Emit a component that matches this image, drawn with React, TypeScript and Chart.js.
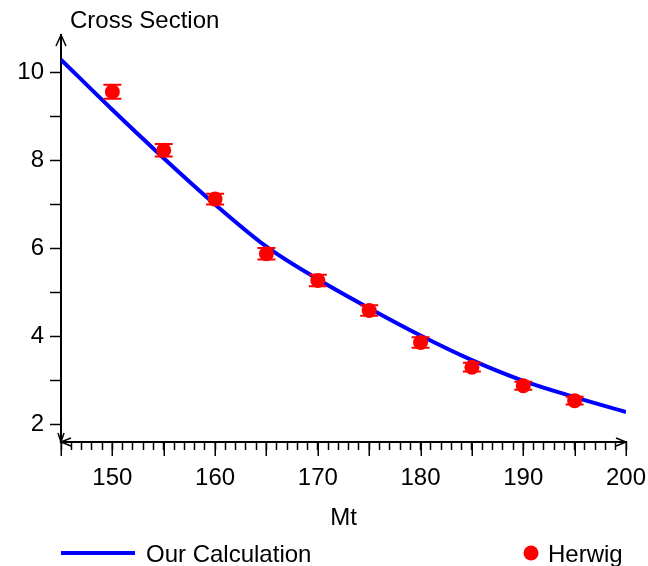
import { useEffect, useRef } from 'react';
import { Chart, registerables } from 'chart.js';

Chart.register(...registerables);

// ---- data ----
const herwigMass = [150, 155, 160, 165, 170, 175, 180, 185, 190, 195];
const herwigValues = [9.56, 8.23, 7.12, 5.88, 5.27, 4.59, 3.86, 3.3, 2.88, 2.54];
const herwigErrors = [0.16, 0.14, 0.12, 0.13, 0.13, 0.12, 0.12, 0.1, 0.09, 0.09];

const curveMass = [145, 150, 155, 160, 165, 170, 175, 180, 185, 190, 195, 200];
const curveValues = [10.29, 9.15, 8.05, 7.0, 6.04, 5.3, 4.64, 4.02, 3.46, 2.99, 2.62, 2.28];

const xLabelTicks = [150, 160, 170, 180, 190, 200];
const xLongTicks = [145, 150, 155, 160, 165, 170, 175, 180, 185, 190, 195, 200];
const yTickValues = [2, 3, 4, 5, 6, 7, 8, 9, 10];
const yLabelTicks = [2, 4, 6, 8, 10];

const xTitle = 'Mt';
const yTitle = 'Cross Section';
const lineLabel = 'Our Calculation';
const pointLabel = 'Herwig';

const FONT = '"Liberation Sans", Arial, Helvetica, sans-serif';
const FS = 24;

const decorPlugin = {
  id: 'decor',
  afterDatasetsDraw(chart: any) {
    const { ctx } = chart;
    const xs = chart.scales.x;
    const ys = chart.scales.y;
    ctx.save();
    ctx.strokeStyle = '#ff0000';
    ctx.lineWidth = 2;
    herwigMass.forEach((m, i) => {
      const px = xs.getPixelForValue(m);
      const top = ys.getPixelForValue(herwigValues[i] + herwigErrors[i]);
      const bot = ys.getPixelForValue(herwigValues[i] - herwigErrors[i]);
      ctx.beginPath();
      ctx.moveTo(px, top);
      ctx.lineTo(px, bot);
      ctx.moveTo(px - 9, top);
      ctx.lineTo(px + 9, top);
      ctx.moveTo(px - 9, bot);
      ctx.lineTo(px + 9, bot);
      ctx.stroke();
    });
    ctx.restore();
  },
  afterDraw(chart: any) {
    const { ctx, chartArea } = chart;
    const xs = chart.scales.x;
    const { left, right, top, bottom } = chartArea;
    ctx.save();
    ctx.strokeStyle = '#000';
    ctx.fillStyle = '#000';
    // long ticks on x axis
    ctx.lineWidth = 1.5;
    xLongTicks.forEach((v) => {
      const px = Math.round(xs.getPixelForValue(v)) + 0.25;
      ctx.beginPath();
      ctx.moveTo(px, bottom);
      ctx.lineTo(px, bottom + 14);
      ctx.stroke();
    });
    // arrows
    ctx.lineWidth = 1.5;
    ctx.beginPath();
    ctx.moveTo(left - 5, top + 11);
    ctx.lineTo(left, top);
    ctx.lineTo(left + 5, top + 11);
    ctx.moveTo(left - 3, bottom - 9);
    ctx.lineTo(left, bottom);
    ctx.lineTo(left + 3, bottom - 9);
    ctx.moveTo(left + 10, bottom - 4);
    ctx.lineTo(left, bottom);
    ctx.lineTo(left + 10, bottom + 4);
    ctx.moveTo(right - 10, bottom - 4);
    ctx.lineTo(right, bottom);
    ctx.lineTo(right - 10, bottom + 4);
    ctx.stroke();

    ctx.font = `${FS}px ${FONT}`;
    ctx.textBaseline = 'alphabetic';
    ctx.textAlign = 'left';
    ctx.fillText(yTitle, 70, 28);
    ctx.textAlign = 'center';
    ctx.fillText(xTitle, (left + right) / 2, 525);
    // legend
    ctx.strokeStyle = '#0000ff';
    ctx.lineWidth = 4;
    ctx.beginPath();
    ctx.moveTo(61, 553);
    ctx.lineTo(135, 553);
    ctx.stroke();
    ctx.textAlign = 'left';
    ctx.fillStyle = '#000';
    ctx.fillText(lineLabel, 146, 562);
    ctx.fillStyle = '#ff0000';
    ctx.beginPath();
    ctx.arc(531, 553, 7.5, 0, Math.PI * 2);
    ctx.fill();
    ctx.fillStyle = '#000';
    ctx.fillText(pointLabel, 548, 562);
    ctx.restore();
  },
};

export default function App() {
  const canvasRef = useRef<HTMLCanvasElement>(null);

  useEffect(() => {
    const canvas = canvasRef.current;
    if (!canvas) return;
    const chart = new Chart(canvas, {
      type: 'scatter',
      data: {
        datasets: [
          {
            type: 'scatter',
            label: pointLabel,
            data: herwigMass.map((m, i) => ({ x: m, y: herwigValues[i] })),
            backgroundColor: '#ff0000',
            borderWidth: 0,
            pointRadius: 7.5,
            order: 1,
          },
          {
            type: 'line',
            label: lineLabel,
            data: curveMass.map((m, i) => ({ x: m, y: curveValues[i] })),
            borderColor: '#0000ff',
            borderWidth: 4,
            pointRadius: 0,
            fill: false,
            cubicInterpolationMode: 'monotone',
            order: 2,
          },
        ],
      },
      options: {
        animation: false,
        responsive: false,
        maintainAspectRatio: false,
        layout: { padding: { top: 35, right: 22, left: 0, bottom: 0 } },
        plugins: {
          legend: { display: false },
          tooltip: { enabled: false },
        },
        scales: {
          x: {
            type: 'linear',
            position: 'bottom',
            min: 145,
            max: 200,
            afterBuildTicks: (scale: any) => {
              const t = [];
              for (let v = 145; v <= 200; v++) t.push({ value: v });
              scale.ticks = t;
            },
            afterFit: (scale: any) => {
              scale.height = 124;
              scale.paddingLeft = 0;
              scale.paddingRight = 0;
            },
            grid: {
              drawOnChartArea: false,
              drawTicks: true,
              tickLength: 8,
              tickColor: '#000',
              tickWidth: 1.5,
            },
            border: { color: '#000', width: 2 },
            ticks: {
              autoSkip: false,
              maxRotation: 0,
              minRotation: 0,
              padding: 14,
              color: '#000',
              font: { family: FONT, size: FS },
              callback: (v: any) => (xLabelTicks.includes(Number(v)) ? String(v) : ''),
            },
          },
          y: {
            type: 'linear',
            position: 'left',
            min: 1.6,
            max: 10.85,
            afterBuildTicks: (scale: any) => {
              scale.ticks = yTickValues.map((v) => ({ value: v }));
            },
            afterFit: (scale: any) => {
              scale.width = 61;
              scale.paddingTop = 0;
              scale.paddingBottom = 0;
            },
            grid: {
              drawOnChartArea: false,
              drawTicks: true,
              tickLength: 11,
              tickColor: '#000',
              tickWidth: 1.5,
            },
            border: { color: '#000', width: 2 },
            ticks: {
              padding: 6,
              color: '#000',
              font: { family: FONT, size: FS },
              callback: (v: any) => (yLabelTicks.includes(Number(v)) ? String(v) : ''),
            },
          },
        },
      },
      plugins: [decorPlugin],
    } as any);
    return () => chart.destroy();
  }, []);

  return (
    <div style={{ position: 'absolute', left: 0, top: 0, width: 648, height: 566, background: '#fff' }}>
      <canvas ref={canvasRef} width={648} height={566} style={{ display: 'block' }} />
    </div>
  );
}
